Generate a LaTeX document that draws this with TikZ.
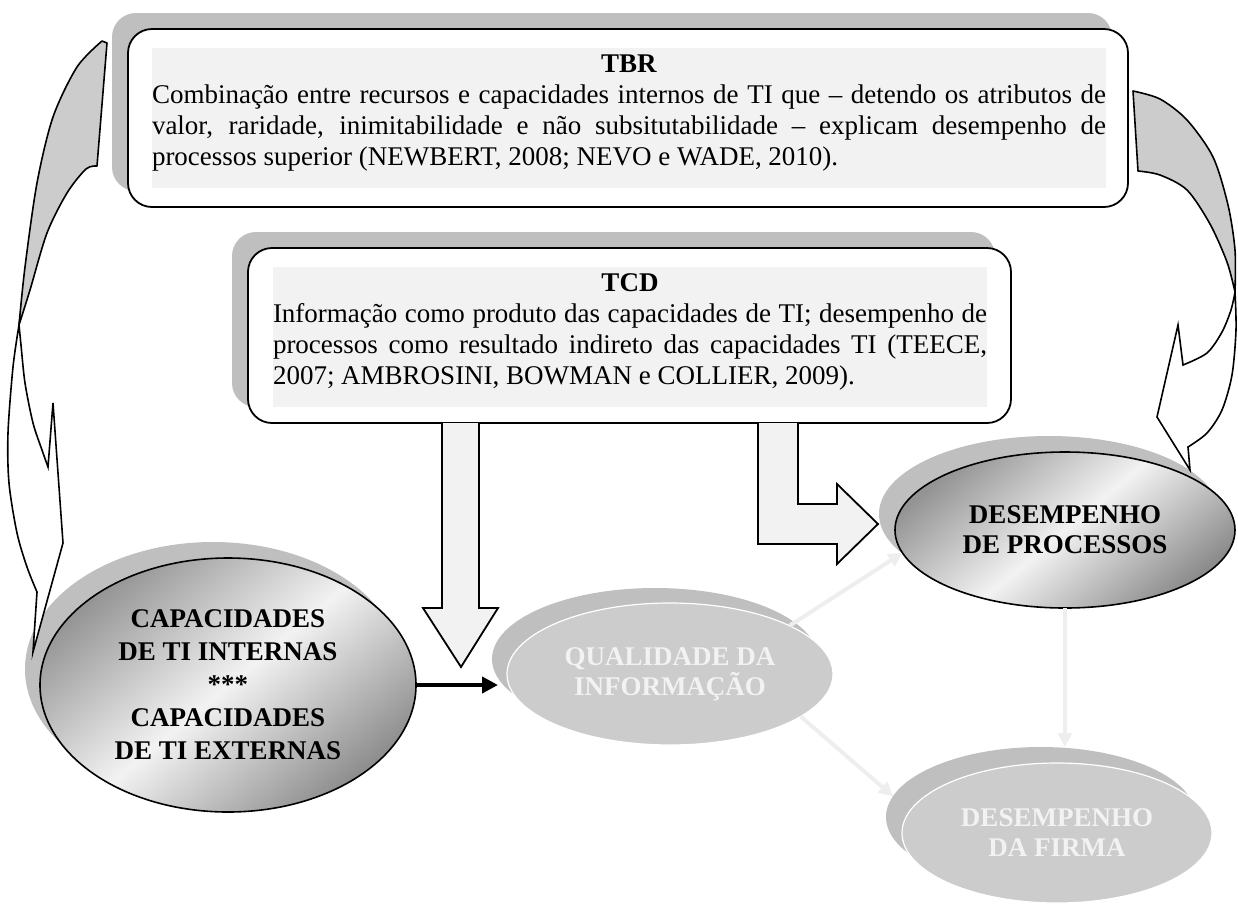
\documentclass[tikz,border=0pt]{standalone}
\usepackage{fontspec}
\setmainfont{Liberation Serif}
\usetikzlibrary{shapes.geometric,arrows.meta,calc}

\definecolor{shadowgray}{HTML}{BFBFBF}
\definecolor{panelgray}{HTML}{F2F2F2}
\definecolor{backgray}{HTML}{CCCCCC}
\definecolor{mutedfill}{HTML}{CCCCCC}
\definecolor{mutedtext}{HTML}{F2F2F2}
\definecolor{faintline}{HTML}{EEEEEE}

\begin{document}
\begin{tikzpicture}[x=0.5pt,y=-0.5pt,
  every node/.style={inner sep=0pt, outer sep=0pt},
  boxshadow/.style={fill=shadowgray, rounded corners=12pt},
  boxframe/.style={draw=black, line width=0.9pt, fill=white, rounded corners=12pt},
  boxpanel/.style={fill=panelgray},
  bodytext/.style={font=\fontsize{13.5}{15.5}\selectfont},
  ovalshadow/.style={ellipse, fill=shadowgray},
  ovaldark/.style={ellipse, draw=black, line width=0.8pt,
    top color=black!42, bottom color=black!45, middle color=black!5,
    shading angle=40, align=center,
    font=\bfseries\fontsize{13.5}{15}\selectfont},
  ovalmuted/.style={ellipse, draw=white, line width=0.6pt, fill=mutedfill,
    text=mutedtext, align=center,
    font=\bfseries\fontsize{13.5}{15}\selectfont},
  blockarrow/.style={draw=black, line width=0.9pt, fill=panelgray, line join=miter},
  mainlink/.style={draw=black, line width=2.2pt, -{Triangle[length=8pt,width=8pt]}},
  faintlink/.style={draw=faintline, line width=2pt, -{Triangle[length=7pt,width=7pt]}},
  backface/.style={draw=black, line width=0.8pt, fill=backgray, line join=round},
  frontface/.style={draw=black, line width=0.8pt, fill=white, line join=miter},
]
\useasboundingbox (0,0) rectangle (1238,923);

% ---------- TBR box ----------
\node[boxshadow, minimum width=500pt, minimum height=89pt] (tbrshadow) at (612,102) {};
\node[boxframe, minimum width=500pt, minimum height=89pt] (tbrframe) at (628,118) {};
\node[boxpanel, minimum width=477pt, minimum height=70pt] (tbrpanel) at (629,118) {};
\node[anchor=base west, bodytext] (tbrtext) at (152,72) {\parbox[t]{477pt}{%
  \hyphenpenalty=10000 \exhyphenpenalty=10000 \tolerance=9999
  {\centering\textbf{TBR}\par}
  Combinação entre recursos e capacidades internos de TI que – detendo os atributos de\linebreak
  valor, raridade, inimitabilidade e não subsitutabilidade – explicam desempenho de\linebreak
  processos superior (NEWBERT, 2008; NEVO e WADE, 2010).}};

% ---------- TCD box ----------
\node[boxshadow, minimum width=381.5pt, minimum height=87.5pt] (tcdshadow) at (613.5,319.5) {};
\node[boxframe, minimum width=381.5pt, minimum height=87.5pt] (tcdframe) at (629.5,335.5) {};
\node[boxpanel, minimum width=357pt, minimum height=70pt] (tcdpanel) at (630,337) {};
\node[anchor=base west, bodytext] (tcdtext) at (273,291) {\parbox[t]{357pt}{%
  \hyphenpenalty=10000 \exhyphenpenalty=10000 \tolerance=9999
  {\centering\textbf{TCD}\par}
  Informação como produto das capacidades de TI; desempenho de\linebreak
  processos como resultado indireto das capacidades TI (TEECE,\linebreak
  2007; AMBROSINI, BOWMAN e COLLIER, 2009).}};

% ---------- ovals ----------
\node[ovalshadow, minimum width=188pt, minimum height=127pt] (capsh) at (213,669) {};
\node[ovaldark, minimum width=188pt, minimum height=127pt,
      font=\bfseries\fontsize{13.5}{16.5}\selectfont] (cap) at (228,685)
  {CAPACIDADES\\DE TI INTERNAS\\***\\CAPACIDADES\\DE TI EXTERNAS};

\node[ovalshadow, minimum width=170pt, minimum height=78pt] (dprocsh) at (1049,514) {};
\node[ovaldark, minimum width=170pt, minimum height=78pt] (dproc) at (1065,530)
  {DESEMPENHO\\DE PROCESSOS};

\node[ovalshadow, minimum width=163pt, minimum height=71pt] (qualsh) at (655,659) {};
\node[ovalmuted, minimum width=163pt, minimum height=71pt] (qual) at (670,674)
  {QUALIDADE DA\\INFORMAÇÃO};

\node[ovalshadow, minimum width=155pt, minimum height=70pt] (firmash) at (1041,817) {};
\node[ovalmuted, minimum width=155pt, minimum height=70pt] (firma) at (1057,833)
  {DESEMPENHO\\DA FIRMA};

% ---------- links between ovals ----------
\draw[mainlink, shorten >=4.5pt] (cap.east) -- (cap.east -| qual.west);
\draw[faintlink] (qual.22) -- (dproc.188);
\draw[faintlink] (qual.-18) -- (firmash.172);
\draw[faintlink] (dproc.south) -- (dproc.south |- firmash.north);

% ---------- block arrows leaving the TCD box ----------
\coordinate (qualtip) at (461,667);
\coordinate (proctip) at (878,524);
\filldraw[blockarrow] (442,423) -- (442,608) -- (423,608) -- (qualtip)
  -- (498,608) -- (479,608) -- (479,423);
\filldraw[blockarrow] (758,423) -- (758,544) -- (837,544) -- (837,564) -- (proctip)
  -- (837,484) -- (837,504) -- (798,504) -- (798,423);

% ---------- curved arrow on the left ----------
\filldraw[backface] (102,41) -- (107,43) -- (97,166)
  -- plot[smooth] coordinates {(97,166) (86,169) (67,193) (47,233) (30,290) (19,325)}
  -- plot[smooth] coordinates {(19,325) (25,267) (37,183) (53,117) (77,67) (102,41)} -- cycle;
\filldraw[frontface]
  plot[smooth] coordinates {(19,325) (13,367) (8,433) (9,483) (17,533) (27,567) (37,592)}
  -- (33,652) -- (63,543) -- (53,403) -- (48,467)
  -- plot[smooth] coordinates {(48,467) (42,450) (33,423) (25,383) (21,345) (19,325)} -- cycle;

% ---------- curved arrow on the right ----------
\filldraw[backface] (1133,91) -- (1138,171)
  -- plot[smooth] coordinates {(1138,171) (1160,175) (1187,190) (1210,224) (1227,262) (1235,292)}
  -- plot[smooth] coordinates {(1235,292) (1235,250) (1228,205) (1213,157) (1187,120) (1160,99) (1133,91)} -- cycle;
\filldraw[frontface]
  plot[smooth] coordinates {(1235,292) (1236,330) (1232,375) (1222,410) (1207,433) (1188,447)}
  -- (1190,470) -- (1157,417) -- (1178,325) -- (1183,365)
  -- plot[smooth] coordinates {(1183,365) (1207,353) (1222,332) (1231,310) (1235,292)} -- cycle;

\end{tikzpicture}
\end{document}
